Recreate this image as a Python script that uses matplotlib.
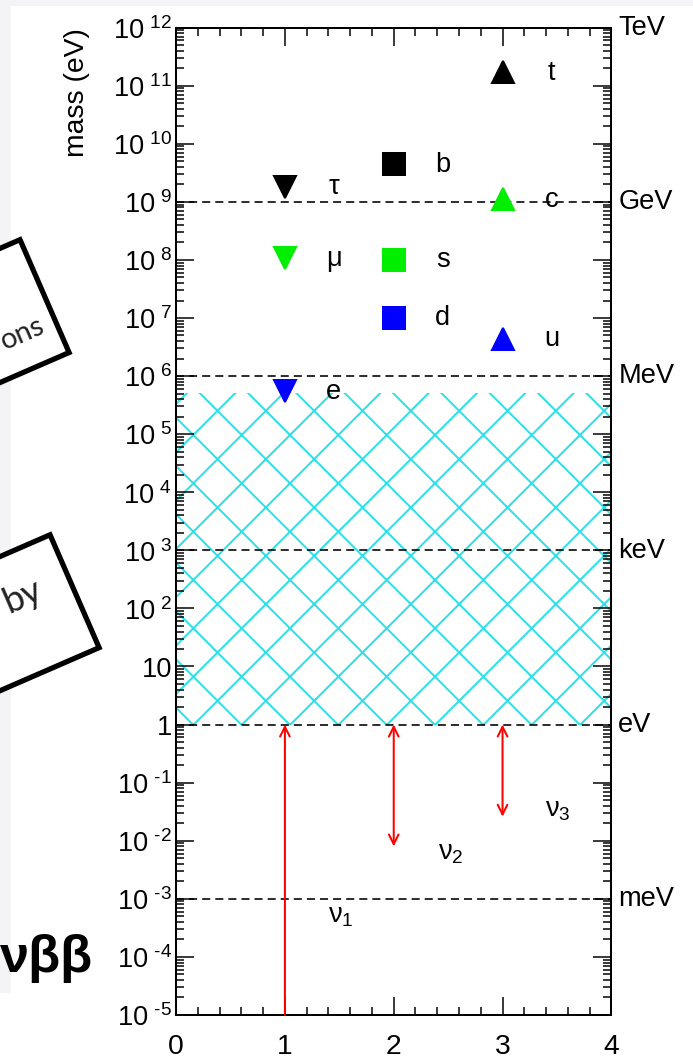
import numpy as np
import matplotlib
matplotlib.use('Agg')
import matplotlib.pyplot as plt
from matplotlib.patches import Rectangle, Polygon
from matplotlib.ticker import FixedLocator, FixedFormatter, LogLocator, MultipleLocator, NullFormatter

DPI = 145

# charged fermion masses in eV, one column per family type
lepton_names = ['e', 'μ', 'τ']
lepton_mass = [5.5e5, 1.06e8, 1.8e9]
down_names = ['d', 's', 'b']
down_mass = [1.0e7, 1.0e8, 4.4e9]
up_names = ['u', 'c', 't']
up_mass = [4.4e6, 1.1e9, 1.7e11]
generation_colors = ['blue', '#00ee00', 'black']

# neutrino mass ranges (eV)
nu_names = [r'$\mathregular{ν_1}$', r'$\mathregular{ν_2}$', r'$\mathregular{ν_3}$']
nu_x = [1, 2, 3]
nu_upper = [1.0, 1.0, 1.0]
nu_lower = [1e-5, 8e-3, 2.6e-2]
nu_label_x = [1.51, 2.52, 3.51]
nu_label_y = [5.2e-4, 6.2e-3, 3.4e-2]

# excluded band
band_low = 1.0
band_high = 5.11e5

# unit scale on the right
unit_names = ['meV', 'eV', 'keV', 'MeV', 'GeV', 'TeV']
unit_values = [1e-3, 1.0, 1e3, 1e6, 1e9, 1e12]

ytick_values = [10.0 ** k for k in range(-5, 13)]
ytick_labels = [r'$\mathregular{10^{\ ‐5}}$', r'$\mathregular{10^{\ ‐4}}$', r'$\mathregular{10^{\ ‐3}}$',
                r'$\mathregular{10^{\ ‐2}}$', r'$\mathregular{10^{\ ‐1}}$', '1', '10',
                r'$\mathregular{10^{\ 2}}$', r'$\mathregular{10^{\ 3}}$', r'$\mathregular{10^{\ 4}}$',
                r'$\mathregular{10^{\ 5}}$', r'$\mathregular{10^{\ 6}}$', r'$\mathregular{10^{\ 7}}$',
                r'$\mathregular{10^{\ 8}}$', r'$\mathregular{10^{\ 9}}$', r'$\mathregular{10^{\ 10}}$',
                r'$\mathregular{10^{\ 11}}$', r'$\mathregular{10^{\ 12}}$']

plt.rcParams['font.family'] = ['Liberation Sans', 'DejaVu Sans']
plt.rcParams['mathtext.default'] = 'regular'
plt.rcParams['hatch.linewidth'] = 1.0
plt.rcParams['lines.scale_dashes'] = False

fig = plt.figure(figsize=(693.4 / DPI, 1059.4 / DPI), dpi=DPI, facecolor='white')

# slide decoration behind the plot (pixel coordinates, y down)
deco = fig.add_axes([0, 0, 1, 1], zorder=-1)
deco.set_xlim(0, 693)
deco.set_ylim(1059, 0)
deco.axis('off')
deco.add_patch(Rectangle((0, 0), 693, 6, color='#f4f4f6', lw=0))
deco.add_patch(Rectangle((0, 0), 11, 993, color='#f4f4f6', lw=0))

theta = np.deg2rad(23.5)
side = np.array([np.sin(theta), np.cos(theta)])
across = np.array([-np.cos(theta), np.sin(theta)])
for top_right in [(20, 240), (50, 535)]:
    tr = np.array(top_right, dtype=float)
    br = tr + 123 * side
    corners = [tr, br, br + 400 * across, tr + 400 * across]
    deco.add_patch(Polygon(corners, closed=True, fill=True, facecolor='white',
                           edgecolor='black', lw=2.6, joinstyle='miter'))
deco.text(46, 332, 'ons', rotation=23.5, rotation_mode='anchor', ha='right', va='baseline',
          fontsize=14.5, family=['Lato', 'DejaVu Sans'], color='#222222')
deco.text(45, 598, 'by', rotation=23.5, rotation_mode='anchor', ha='right', va='baseline',
          fontsize=18, family=['Lato', 'DejaVu Sans'], color='#222222')
deco.text(0, 958, 'νββ', ha='left', va='center', fontsize=26, fontweight='bold',
          family=['Liberation Sans', 'DejaVu Sans'])

ax = fig.add_axes([176 / 693, 1 - 1015 / 1059, 435 / 693, 987 / 1059])
ax.set_yscale('log')
ax.set_xlim(0, 4)
ax.set_ylim(1e-5, 1e12)

# excluded region
ax.add_patch(Rectangle((0, band_low), 4, band_high - band_low, facecolor='none',
                       edgecolor='#30e0e8', lw=0, hatch='x', zorder=1))

# unit lines
for v in unit_values[:-1]:
    ax.axhline(v, color='black', lw=0.8, dashes=(4, 2.5), zorder=2)
for name, v in zip(unit_names, unit_values):
    ax.text(1.016, v, name, transform=ax.get_yaxis_transform(), ha='left', va='center',
            fontsize=13.5, clip_on=False)

# charged fermions
columns = [(1, 'v', lepton_names, lepton_mass),
           (2, 's', down_names, down_mass),
           (3, '^', up_names, up_mass)]
for x, marker, names, masses in columns:
    for name, m, c in zip(names, masses, generation_colors):
        ax.plot([x], [m], marker=marker, color=c, ms=11, ls='none', zorder=3)
        ax.text(x + 0.45, m, name, ha='center', va='center', fontsize=13.5, zorder=4)

# neutrinos
for x, lo, hi in zip(nu_x, nu_lower, nu_upper):
    style = '->' if lo <= ax.get_ylim()[0] else '<->'
    ax.annotate('', xy=(x, hi), xytext=(x, lo),
                arrowprops=dict(arrowstyle=style, color='red', lw=1.0, mutation_scale=12,
                                shrinkA=0, shrinkB=0), zorder=3)
for name, lx, ly in zip(nu_names, nu_label_x, nu_label_y):
    ax.text(lx, ly, name, ha='center', va='center', fontsize=13.5)

# axes styling
for s in ax.spines.values():
    s.set_linewidth(1.0)
ax.yaxis.set_major_locator(FixedLocator(ytick_values))
ax.yaxis.set_major_formatter(FixedFormatter(ytick_labels))
ax.yaxis.set_minor_locator(LogLocator(base=10, subs=np.arange(2, 10), numticks=40))
ax.yaxis.set_minor_formatter(NullFormatter())
ax.xaxis.set_major_locator(MultipleLocator(1))
ax.xaxis.set_minor_locator(MultipleLocator(0.2))
ax.xaxis.set_major_formatter(matplotlib.ticker.FormatStrFormatter('%d'))
ax.tick_params(which='both', direction='in', top=True, right=True, width=0.75)
ax.tick_params(which='major', length=8.8)
ax.tick_params(which='minor', length=4)
ax.tick_params(axis='y', which='major', labelsize=13.5, pad=2)
ax.tick_params(axis='x', which='major', labelsize=14, pad=9)

ax.set_ylabel('mass (eV)', fontsize=14, loc='top')
ax.yaxis.set_label_coords(-0.198, 1.0)

fig.savefig('out.png', dpi=DPI, facecolor='white')
